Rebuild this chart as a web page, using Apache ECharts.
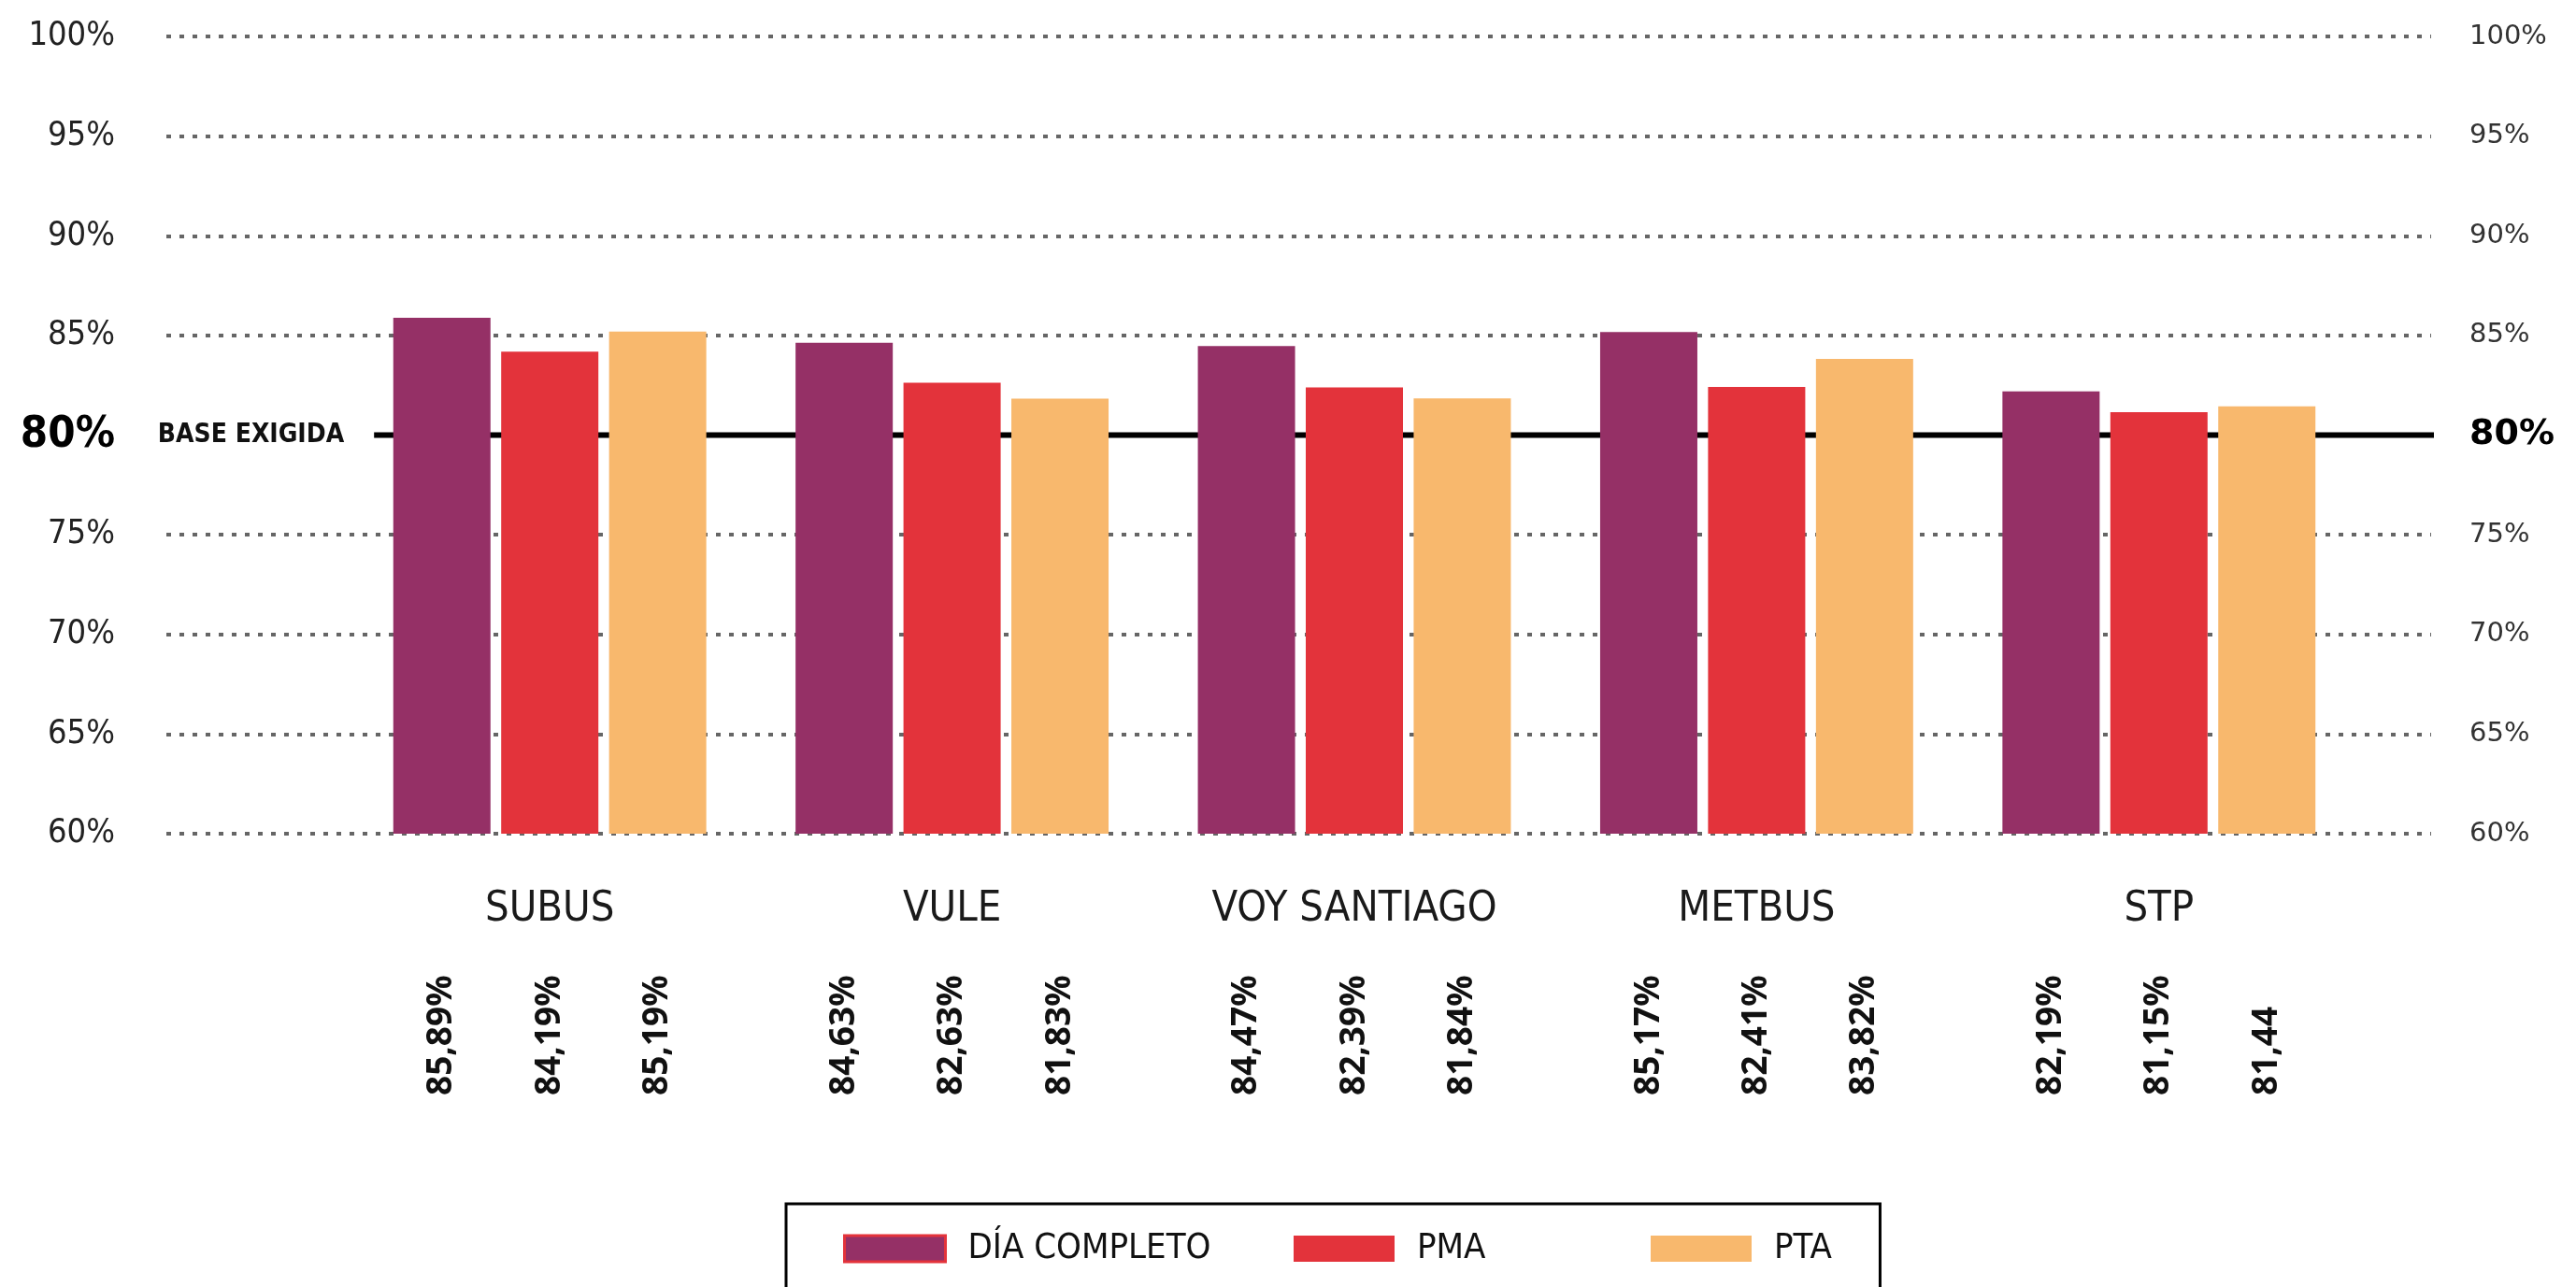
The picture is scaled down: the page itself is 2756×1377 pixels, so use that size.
<!DOCTYPE html>
<html>
<head>
<meta charset="utf-8">
<script src="https://cdn.jsdelivr.net/npm/echarts@6/dist/echarts.min.js"></script>
<style>
html,body{margin:0;padding:0;background:#fff;}
#chart{width:2756px;height:1377px;}
</style>
</head>
<body>
<div id="chart"></div>
<script>
const categories = ['SUBUS', 'VULE', 'VOY SANTIAGO', 'METBUS', 'STP'];
const seriesNames = ['DÍA COMPLETO', 'PMA', 'PTA'];
const diaCompleto = [85.89, 84.63, 84.47, 85.17, 82.19];
const pma = [84.19, 82.63, 82.39, 82.41, 81.15];
const pta = [85.19, 81.83, 81.84, 83.82, 81.44];
const diaLabels = ['85,89%', '84,63%', '84,47%', '85,17%', '82,19%'];
const pmaLabels = ['84,19%', '82,63%', '82,39%', '82,41%', '81,15%'];
const ptaLabels = ['85,19%', '81,83%', '81,84%', '83,82%', '81,44'];
const yMin = 60, yMax = 100, yStep = 5;
const baseValue = 80;
const baseText = 'BASE EXIGIDA';
const baseSpan = [0.0917, 1.003];

const colors = ['#953066', '#E3333B', '#F8B86D'];
const narrow = "'Liberation Sans Narrow', 'DejaVu Sans Condensed', sans-serif";

const chart = echarts.init(document.getElementById('chart'));

function barSeries(name, data, labels, color) {
  return {
    name: name,
    type: 'bar',
    xAxisIndex: 0,
    yAxisIndex: 0,
    data: data,
    barWidth: 104,
    barGap: '11%',
    z: 3,
    itemStyle: { color: color },
    label: {
      show: true,
      position: 'insideBottom',
      distance: 0,
      rotate: 90,
      align: 'left',
      verticalAlign: 'middle',
      offset: [-280, 0],
      formatter: p => labels[p.dataIndex],
      fontFamily: "'Noto Sans', sans-serif",
      fontWeight: 'bold',
      fontSize: 37,
      color: '#111'
    }
  };
}

const gridColors = [];
for (let v = yMin; v <= yMax; v += yStep) gridColors.push(v === baseValue ? 'rgba(0,0,0,0)' : '#666');

function legendItem(idx, left, extra) {
  return Object.assign({
    data: [idx === 0
      ? { name: seriesNames[idx], itemStyle: { borderColor: '#E3333B', borderWidth: 3 } }
      : { name: seriesNames[idx] }],
    left: left,
    top: 1288,
    icon: 'rect',
    itemWidth: 108,
    itemHeight: 28,
    selectedMode: false,
    padding: [29, 0, 80, 0],
    textStyle: { fontFamily: narrow, fontSize: 38, color: '#111', padding: [0, 0, 0, 19] }
  }, extra || {});
}

const option = {
  backgroundColor: '#fff',
  animation: false,
  grid: [
    { left: 373, right: 231, top: 39, bottom: 485, containLabel: false },
    { left: 178, right: 155, top: 39, bottom: 485, containLabel: false }
  ],
  legend: [
    legendItem(0, 841, { padding: [29, 716, 80, 61], borderColor: '#000', borderWidth: 3 }),
    legendItem(1, 1384),
    legendItem(2, 1766)
  ],
  xAxis: [
    {
      type: 'category',
      gridIndex: 0,
      data: categories,
      axisLine: { show: false },
      axisTick: { show: false },
      splitLine: { show: false },
      axisLabel: { margin: 59, fontFamily: narrow, fontSize: 45, color: '#1a1a1a' }
    },
    { type: 'value', gridIndex: 1, min: 0, max: 1, show: false }
  ],
  yAxis: [
    { type: 'value', gridIndex: 0, min: yMin, max: yMax, interval: yStep, show: false },
    {
      type: 'value', gridIndex: 1, position: 'left', min: yMin, max: yMax, interval: yStep,
      axisLine: { show: false }, axisTick: { show: false },
      splitLine: { show: true, lineStyle: { type: [5, 9], width: 4, color: gridColors } },
      axisLabel: {
        margin: 55,
        formatter: v => v === baseValue ? '{b|' + v + '%}' : '{n|' + v + '%}',
        rich: {
          n: { fontFamily: narrow, fontSize: 36, color: '#222' },
          b: { fontFamily: narrow, fontSize: 47, fontWeight: 'bold', color: '#000' }
        }
      }
    },
    {
      type: 'value', gridIndex: 1, position: 'right', min: yMin, max: yMax, interval: yStep,
      axisLine: { show: false }, axisTick: { show: false }, splitLine: { show: false },
      axisLabel: {
        margin: 41,
        formatter: v => v === baseValue ? '{b|' + v + '%}' : '{n|' + v + '%}',
        rich: {
          n: { fontFamily: "'DejaVu Sans', sans-serif", fontSize: 29, color: '#333' },
          b: { fontFamily: "'DejaVu Sans', sans-serif", fontSize: 38, fontWeight: 'bold', color: '#000' }
        }
      }
    }
  ],
  series: [
    barSeries(seriesNames[0], diaCompleto, diaLabels, colors[0]),
    barSeries(seriesNames[1], pma, pmaLabels, colors[1]),
    barSeries(seriesNames[2], pta, ptaLabels, colors[2]),
    {
      name: 'base',
      type: 'line',
      xAxisIndex: 1,
      yAxisIndex: 1,
      z: 1,
      silent: true,
      symbol: 'circle',
      symbolSize: 0.1,
      showSymbol: true,
      lineStyle: { color: '#000', width: 6, type: 'solid' },
      itemStyle: { color: '#000' },
      data: [
        {
          value: [baseSpan[0], baseValue],
          label: {
            show: true,
            position: 'left',
            distance: 32,
            formatter: baseText,
            fontFamily: narrow,
            fontWeight: 'bold',
            fontSize: 28,
            color: '#111'
          }
        },
        { value: [baseSpan[1], baseValue], label: { show: false } }
      ]
    }
  ]
};
chart.setOption(option);
</script>
</body>
</html>
